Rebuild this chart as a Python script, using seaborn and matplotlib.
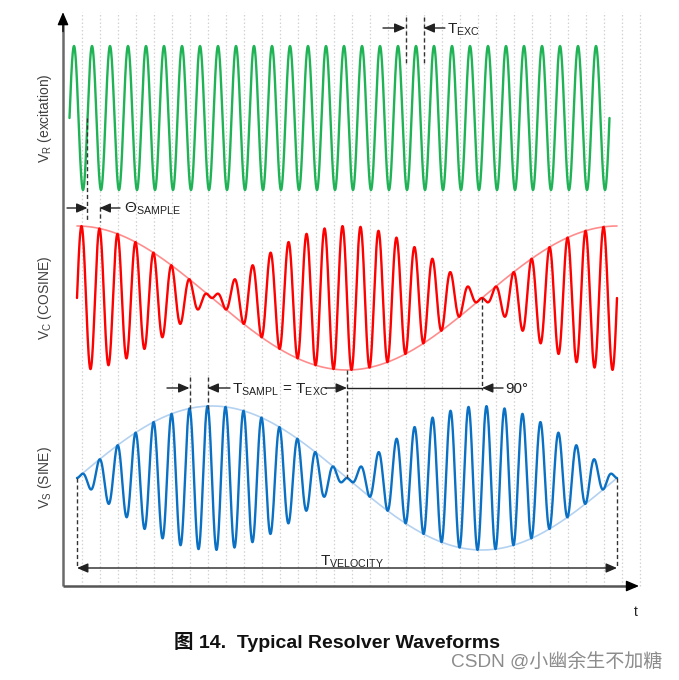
import numpy as np
import pandas as pd
import matplotlib
matplotlib.use('Agg')
import matplotlib.pyplot as plt
import seaborn as sns

# --- data (time in units of T_EXC, amplitude in units of one carrier peak) ---
cycles_per_velocity = 30                 # T_VELOCITY / T_EXC
exc_span = [-0.417, 29.583]              # V_R trace start/end
mod_span = [0.0, 30.0]                   # V_C / V_S trace start/end
trace_centers = [6.5, 4.0, 1.5]          # V_R, V_C, V_S baselines
trace_labels = [r'V$_\mathrm{R}$ (excitation)', r'V$_\mathrm{C}$ (COSINE)', r'V$_\mathrm{S}$ (SINE)']
grid_times = [0.25 + k for k in range(32)]

theta_marks = [0.583, 1.25]       # Θ_SAMPLE
texc_marks = [18.25, 19.25]       # T_EXC
tsampl_marks = [6.25, 7.25]       # T_SAMPL = T_EXC
phase_marks = [15.0, 22.5]        # 90°

# --- build traces ---
t_exc = np.linspace(exc_span[0], exc_span[1], 4000)
t_mod = np.linspace(mod_span[0], mod_span[1], 4000)
carrier = np.sin(2 * np.pi * t_mod)
env_c = np.cos(2 * np.pi * t_mod / cycles_per_velocity)
env_s = np.sin(2 * np.pi * t_mod / cycles_per_velocity)

df_r = pd.DataFrame({'t': t_exc, 'v': trace_centers[0] + np.sin(2 * np.pi * (t_exc - exc_span[0]))})
df_c = pd.DataFrame({'t': t_mod, 'v': trace_centers[1] + env_c * carrier, 'env': trace_centers[1] + env_c})
df_s = pd.DataFrame({'t': t_mod, 'v': trace_centers[2] + env_s * carrier, 'env': trace_centers[2] + env_s})

sns.set_theme(style='white')
plt.rcParams['font.family'] = ['Liberation Sans', 'Noto Sans CJK SC', 'DejaVu Sans']
plt.rcParams['mathtext.fontset'] = 'custom'
plt.rcParams['mathtext.rm'] = 'Liberation Sans'
plt.rcParams['mathtext.it'] = 'Liberation Sans:italic'
plt.rcParams['mathtext.bf'] = 'Liberation Sans:bold'

fig = plt.figure(figsize=(6.79, 6.80), dpi=100)
ax = fig.add_axes([0, 0, 1, 1])
ax.set_xlim(-77 / 18, 602 / 18)
ax.set_ylim(-94 / 72, 586 / 72)
ax.axis('off')

# vertical dotted grid
for g in grid_times:
    ax.plot([g, g], [0, 7.97], color='#d2d2d2', lw=0.9, ls=(0, (1.2, 1.8)), zorder=0)

# axes with arrows
ax_x0 = -0.778
ax.plot([ax_x0, ax_x0], [0, 7.8], color='#6a6a6a', lw=1.8, solid_capstyle='butt')
ax.plot([ax_x0, 31.0], [0, 0], color='#555555', lw=1.8, solid_capstyle='butt')
head = dict(arrowstyle='-|>,head_length=0.7,head_width=0.3', mutation_scale=11,
            color='black', lw=1, shrinkA=0, shrinkB=0)
ax.annotate('', xy=(ax_x0, 7.97), xytext=(ax_x0, 7.7), arrowprops=head)
ax.annotate('', xy=(31.22, 0), xytext=(30.8, 0), arrowprops=head)

# envelopes
sns.lineplot(data=df_c, x='t', y='env', ax=ax, color='#ff8c8c', lw=1.2, estimator=None)
sns.lineplot(data=df_s, x='t', y='env', ax=ax, color='#b3d1f0', lw=1.2, estimator=None)
# waveforms
sns.lineplot(data=df_r, x='t', y='v', ax=ax, color='#1fb356', lw=1.7, estimator=None)
sns.lineplot(data=df_c, x='t', y='v', ax=ax, color='#ff0000', lw=1.7, estimator=None)
sns.lineplot(data=df_s, x='t', y='v', ax=ax, color='#0a70c4', lw=1.7, estimator=None)

dash = dict(color='#333333', lw=1.0, ls=(0, (3, 2)))
arr = dict(arrowstyle='-|>,head_length=0.65,head_width=0.28', mutation_scale=10,
           color='#222222', lw=1.0, shrinkA=0, shrinkB=0)


def arrow(x0, y0, x1, y1):
    ax.annotate('', xy=(x1, y1), xytext=(x0, y0), arrowprops=arr)


fs = 11
# T_EXC
ax.plot([texc_marks[0]] * 2, [7.9, 7.25], **dash)
ax.plot([texc_marks[1]] * 2, [7.9, 7.25], **dash)
arrow(17.0, 7.75, texc_marks[0], 7.75)
arrow(20.44, 7.75, texc_marks[1], 7.75)
ax.text(20.56, 7.676, r'$\mathrm{T_{EXC}}$', fontsize=fs, color='#222222', va='baseline')

# Θ_SAMPLE
ax.plot([theta_marks[0]] * 2, [trace_centers[0], 5.06], **dash)
ax.plot([theta_marks[1]] * 2, [5.26, 5.06], **dash)
arrow(-0.556, 5.25, theta_marks[0], 5.25)
arrow(2.39, 5.25, theta_marks[1], 5.25)
ax.text(2.61, 5.18, r'$\mathrm{Θ_{SAMPLE}}$', fontsize=fs, color='#222222', va='baseline')

# T_SAMPL = T_EXC
ax.plot([tsampl_marks[0]] * 2, [2.9, 2.45], **dash)
ax.plot([tsampl_marks[1]] * 2, [2.9, 2.45], **dash)
arrow(5.0, 2.75, tsampl_marks[0], 2.75)
arrow(8.5, 2.75, tsampl_marks[1], 2.75)
ax.text(8.59, 2.676, r'$\mathrm{T_{SAMPL}}$ = $\mathrm{T_{EXC}}$', fontsize=fs, color='#222222', va='baseline')

# 90°
ax.plot([phase_marks[0]] * 2, [3.0, trace_centers[2]], **dash)
ax.plot([phase_marks[1]] * 2, [trace_centers[1], 2.72], **dash)
ax.plot([phase_marks[0], phase_marks[1]], [2.75, 2.75], color='#222222', lw=1.0)
arrow(13.78, 2.75, phase_marks[0], 2.75)
arrow(23.67, 2.75, phase_marks[1], 2.75)
ax.text(23.78, 2.676, '90°', fontsize=fs, color='#222222', va='baseline')

# T_VELOCITY
ax.plot([mod_span[0]] * 2, [trace_centers[2], 0.25], **dash)
ax.plot([mod_span[1]] * 2, [trace_centers[2], 0.25], **dash)
ax.annotate('', xy=(mod_span[1], 0.25), xytext=(mod_span[0], 0.25),
            arrowprops=dict(arr, arrowstyle='<|-|>,head_length=0.65,head_width=0.28'))
ax.text(13.5, 0.278, r'$\mathrm{T_{VELOCITY}}$', fontsize=fs, color='#222222', va='baseline')

# trace labels
for lab, c in zip(trace_labels, trace_centers):
    ax.text(-1.78, c, lab, rotation=90, fontsize=10, color='#404040', ha='center', va='center')

ax.text(31.06, -0.361, 't', fontsize=10, color='#222222', ha='center', va='center')
ax.text(14.44, -0.778, '图 14.  Typical Resolver Waveforms', fontsize=14, fontweight='bold',
        color='#111111', ha='center', va='center')
ax.text(32.5, -1.056, 'CSDN @小幽余生不加糖', fontsize=13.7, color='#8c8c8c', ha='right', va='center',
        family=['Liberation Sans', 'Noto Sans CJK SC', 'DejaVu Sans'])

fig.savefig('out.png', dpi=100, facecolor='white')
